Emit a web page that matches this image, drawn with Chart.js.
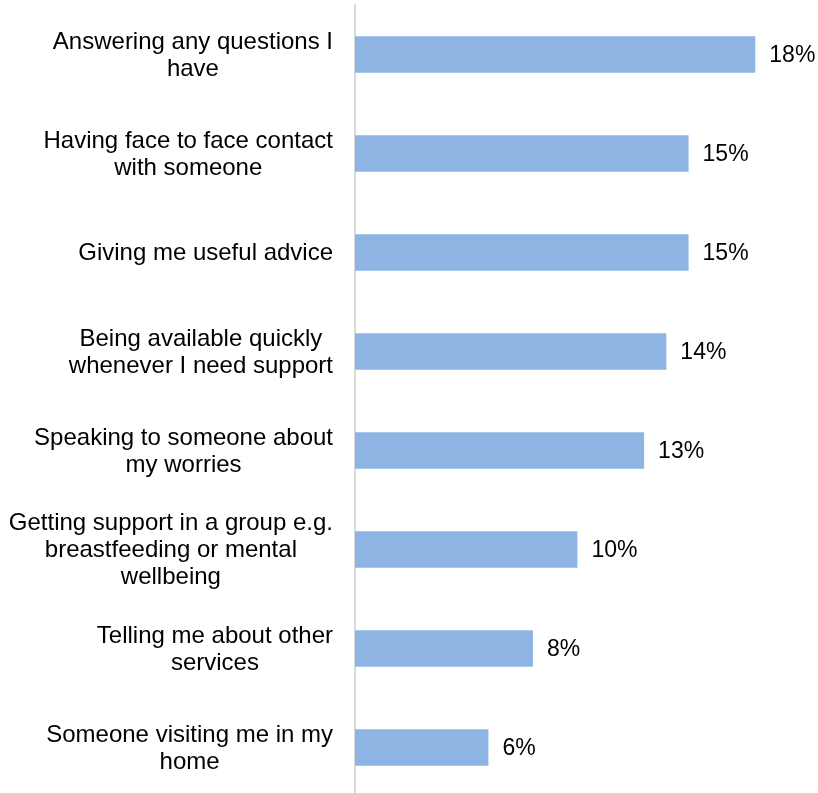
<!DOCTYPE html>
<html>
<head>
<meta charset="utf-8">
<script src="https://cdn.jsdelivr.net/npm/chart.js@4/dist/chart.umd.min.js"></script>
<style>
  html, body { margin: 0; padding: 0; background: #fff; overflow: hidden; }
  #wrap { position: relative; width: 818px; height: 797px; }
</style>
</head>
<body>
<div id="wrap"><canvas id="chart"></canvas></div>
<script>
"use strict";

// one entry per bar, each label split into its printed lines
var categories = [
    ['Answering any questions I', 'have'],
    ['Having face to face contact', 'with someone'],
    ['Giving me useful advice'],
    ['Being available quickly', 'whenever I need support'],
    ['Speaking to someone about', 'my worries'],
    ['Getting support in a group e.g.', 'breastfeeding or mental', 'wellbeing'],
    ['Telling me about other', 'services'],
    ['Someone visiting me in my', 'home']
];
var shares = [18, 15, 15, 14, 13, 10, 8, 6];

var FONT = 'Arial, "Liberation Sans", Helvetica, sans-serif';
var LABEL_SIZE = 24;
var VALUE_SIZE = 23;
var LINE_HEIGHT = 27;

// category text: block right-aligned to the axis, lines centred within the block
var categoryLabels = {
    id: 'categoryLabels',
    afterDraw: function (chart) {
        var ctx = chart.ctx;
        var yScale = chart.scales.y;
        var right = chart.chartArea.left - 22;
        ctx.save();
        ctx.font = LABEL_SIZE + 'px ' + FONT;
        ctx.fillStyle = '#000';
        ctx.textAlign = 'center';
        ctx.textBaseline = 'middle';
        categories.forEach(function (lines, i) {
            var widest = 0;
            lines.forEach(function (line) {
                widest = Math.max(widest, ctx.measureText(line).width);
            });
            var cx = right - widest / 2;
            var cy = yScale.getPixelForTick(i);
            var top = cy - (lines.length - 1) * LINE_HEIGHT / 2;
            lines.forEach(function (line, j) {
                ctx.fillText(line, cx, top + j * LINE_HEIGHT + 1);
            });
        });
        ctx.restore();
    }
};

// percentage printed just past the end of each bar
var valueLabels = {
    id: 'valueLabels',
    afterDatasetsDraw: function (chart) {
        var ctx = chart.ctx;
        var meta = chart.getDatasetMeta(0);
        ctx.save();
        ctx.font = VALUE_SIZE + 'px ' + FONT;
        ctx.fillStyle = '#000';
        ctx.textAlign = 'left';
        ctx.textBaseline = 'middle';
        meta.data.forEach(function (bar, i) {
            ctx.fillText(shares[i] + '%', bar.x + 14, bar.y + 1);
        });
        ctx.restore();
    }
};

new Chart(document.getElementById('chart'), {
    type: 'bar',
    data: {
        labels: categories.map(function (l) { return l.join(' '); }),
        datasets: [{
            data: shares,
            backgroundColor: '#8db4e2',
            borderWidth: 0,
            barPercentage: 0.37,
            categoryPercentage: 1
        }]
    },
    options: {
        indexAxis: 'y',
        responsive: true,
        maintainAspectRatio: false,
        animation: false,
        layout: {
            padding: {left: 355, right: 16, top: 5, bottom: 0}
        },
        plugins: {
            legend: {display: false},
            tooltip: {enabled: false}
        },
        scales: {
            x: {
                display: false,
                min: 0,
                max: 20.1
            },
            y: {
                grid: {display: false, drawTicks: false},
                border: {display: true, color: '#d9d9d9', width: 2},
                ticks: {display: false}
            }
        }
    },
    plugins: [categoryLabels, valueLabels]
});
</script>
</body>
</html>
